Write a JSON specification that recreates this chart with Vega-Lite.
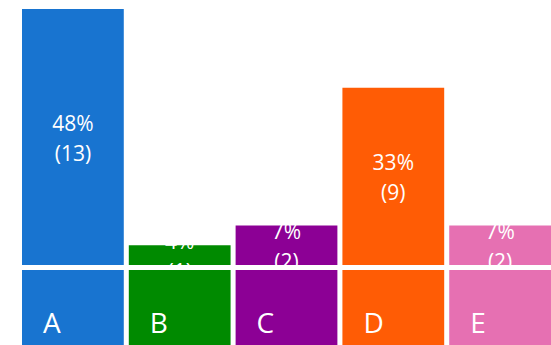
{
  "$schema": "https://vega.github.io/schema/vega-lite/v6.json",
  "padding": {"left": 22, "top": 9, "right": 0, "bottom": 0},
  "background": "white",
  "spacing": 5,
  "config": {"view": {"stroke": null}, "font": "Open Sans", "concat": {"spacing": 5}},
  "data": {"values": [
    {"cat": "A", "count": 13, "label": "48%\n(13)"},
    {"cat": "B", "count": 1, "label": "4%\n(1)"},
    {"cat": "C", "count": 2, "label": "7%\n(2)"},
    {"cat": "D", "count": 9, "label": "33%\n(9)"},
    {"cat": "E", "count": 2, "label": "7%\n(2)"}
  ]},
  "vconcat": [
    {
      "width": 529,
      "height": 256,
      "layer": [
        {
          "mark": {"type": "bar"},
          "encoding": {
            "x": {"field": "cat", "type": "nominal", "axis": null, "scale": {"paddingInner": 0.047, "paddingOuter": 0}},
            "y": {"field": "count", "type": "quantitative", "axis": null, "scale": {"domain": [0, 13], "nice": false}},
            "color": {"field": "cat", "type": "nominal", "legend": null,
              "scale": {"domain": ["A", "B", "C", "D", "E"], "range": ["#1874D0", "#008A00", "#8C0095", "#FF5C05", "#E670B2"]}}
          }
        },
        {
          "mark": {"type": "text", "color": "white", "fontSize": 21, "lineBreak": "\n", "lineHeight": 30, "baseline": "middle", "dy": -12, "clip": true},
          "encoding": {
            "x": {"field": "cat", "type": "nominal", "axis": null, "scale": {"paddingInner": 0.047, "paddingOuter": 0}},
            "y": {"field": "count", "type": "quantitative", "axis": null, "scale": {"domain": [0, 26], "nice": false}},
            "text": {"field": "label"}
          }
        }
      ],
      "resolve": {"scale": {"y": "independent"}}
    },
    {
      "width": 529,
      "height": 75,
      "layer": [
        {
          "mark": {"type": "bar"},
          "encoding": {
            "x": {"field": "cat", "type": "nominal", "axis": null, "scale": {"paddingInner": 0.047, "paddingOuter": 0}},
            "y": {"datum": 0, "type": "quantitative", "axis": null, "scale": {"domain": [0, 1], "nice": false}},
            "y2": {"datum": 1},
            "color": {"field": "cat", "type": "nominal", "legend": null,
              "scale": {"domain": ["A", "B", "C", "D", "E"], "range": ["#1874D0", "#008A00", "#8C0095", "#FF5C05", "#E670B2"]}}
          }
        },
        {
          "mark": {"type": "text", "color": "white", "fontSize": 28, "align": "left", "baseline": "alphabetic", "dx": 21, "dy": -12},
          "encoding": {
            "x": {"field": "cat", "type": "nominal", "axis": null, "bandPosition": 0, "scale": {"paddingInner": 0.047, "paddingOuter": 0}},
            "y": {"datum": 0, "type": "quantitative", "axis": null, "scale": {"domain": [0, 1], "nice": false}},
            "text": {"field": "cat"}
          }
        }
      ]
    }
  ]
}
